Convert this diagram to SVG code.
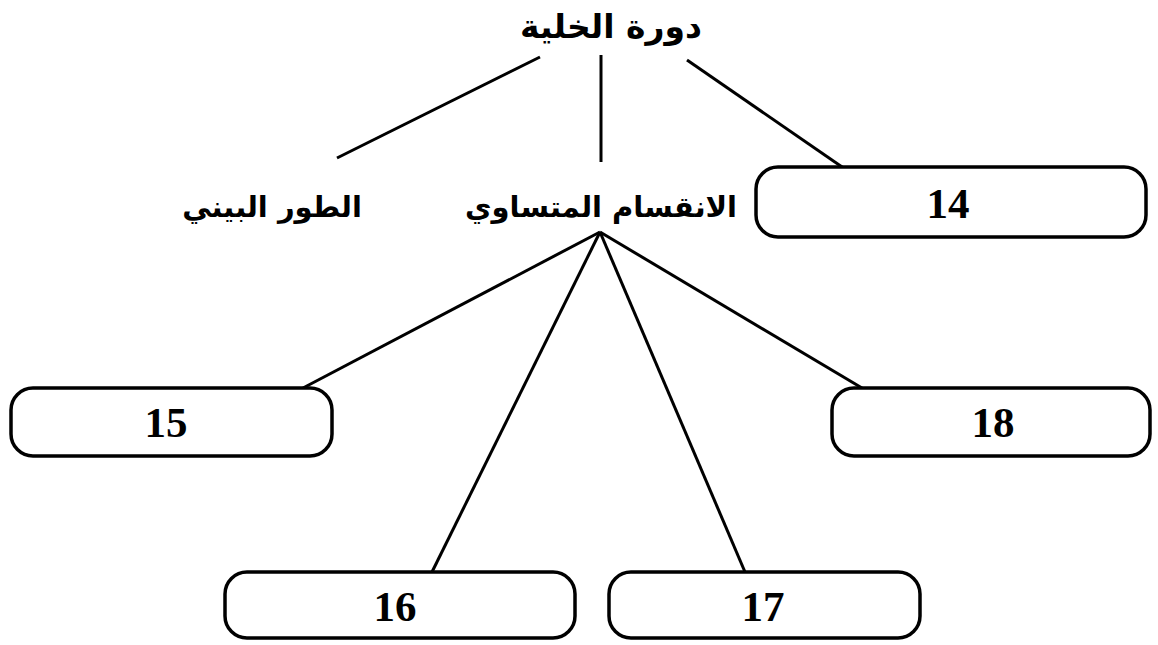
<svg xmlns="http://www.w3.org/2000/svg" width="1158" height="645" viewBox="0 0 1158 645">
<style>
.box{fill:#fff;stroke:#000;stroke-width:3.5}
.num{font-family:"Liberation Serif",serif;font-weight:bold;font-size:43px;text-anchor:middle;fill:#000}
.ar{font-family:"DejaVu Sans",sans-serif;font-weight:bold;font-size:29px;text-anchor:middle;fill:#000}
.ln{stroke:#000;stroke-width:3;fill:none}
</style>
<rect width="1158" height="645" fill="#fff"/>
<g id="connectors">
<line class="ln" x1="540" y1="57" x2="337" y2="158"/>
<line class="ln" x1="601" y1="55" x2="601" y2="162"/>
<line class="ln" x1="687" y1="60" x2="845" y2="169"/>
<line class="ln" x1="600" y1="232" x2="303" y2="388"/>
<line class="ln" x1="600" y1="232" x2="432" y2="572"/>
<line class="ln" x1="600" y1="232" x2="745" y2="572"/>
<line class="ln" x1="600" y1="232" x2="862" y2="388"/>
</g>
<g id="title"><text class="ar" x="611" y="38" direction="rtl" style="font-size:33px">دورة الخلية</text></g>
<g id="interphase"><text class="ar" x="272" y="217" direction="rtl">الطور البيني</text></g>
<g id="mitosis"><text class="ar" x="601" y="217" direction="rtl">الانقسام المتساوي</text></g>
<g id="n14"><rect class="box" x="756" y="167" width="390" height="70" rx="22"/><text class="num" x="948" y="218">14</text></g>
<g id="n15"><rect class="box" x="11" y="388" width="321" height="68" rx="22"/><text class="num" x="166" y="437">15</text></g>
<g id="n18"><rect class="box" x="832" y="388" width="318" height="68" rx="22"/><text class="num" x="993" y="437">18</text></g>
<g id="n16"><rect class="box" x="225" y="572" width="350" height="66" rx="22"/><text class="num" x="395" y="621">16</text></g>
<g id="n17"><rect class="box" x="609" y="572" width="311" height="66" rx="22"/><text class="num" x="763" y="621">17</text></g>
</svg>
